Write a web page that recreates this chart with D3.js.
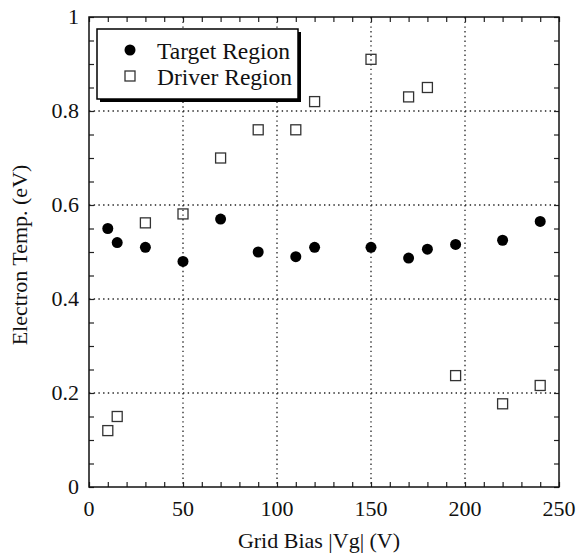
<!DOCTYPE html>
<html>
<head>
<meta charset="utf-8">
<script src="https://cdn.jsdelivr.net/npm/d3@7"></script>
<style>
    body { margin: 0; background: #fff; }
</style>
</head>
<body>
<script>
var gridBias = [10, 15, 30, 50, 70, 90, 110, 120, 150, 170, 180, 195, 220, 240];
var targetRegion = [0.55, 0.52, 0.51, 0.48, 0.57, 0.50, 0.49, 0.51, 0.51, 0.487, 0.506, 0.516, 0.525, 0.565];
var driverRegion = [0.12, 0.15, 0.562, 0.581, 0.70, 0.76, 0.76, 0.82, 0.91, 0.83, 0.85, 0.237, 0.177, 0.216];
var xTicks = [0, 50, 100, 150, 200, 250];
var yTicks = [0, 0.2, 0.4, 0.6, 0.8, 1];
var seriesNames = ['Target Region', 'Driver Region'];

window.Chart = function () {
    var serif = "'Liberation Serif', 'DejaVu Serif', Times, serif";
    return {
        draw: function () {
            var W = 579, H = 555;
            var left = 89, right = 559, top = 17, bottom = 487;

            var svg = d3.select('body').append('svg').attr('width', W).attr('height', H)
                .attr('font-family', serif);

            var x = d3.scaleLinear().domain([0, 250]).range([left, right]);
            var y = d3.scaleLinear().domain([0, 1]).range([bottom, top]);

            // dotted grid at the major ticks
            var grid = svg.append('g').attr('stroke', '#222').attr('stroke-width', 1.3).attr('stroke-dasharray', '1.4,3.3');
            grid.selectAll('.gx').data(xTicks.slice(1, -1)).enter().append('line')
                .attr('x1', function(d) { return x(d); }).attr('x2', function(d) { return x(d); })
                .attr('y1', top).attr('y2', bottom);
            grid.selectAll('.gy').data(yTicks.slice(1, -1)).enter().append('line')
                .attr('x1', left).attr('x2', right)
                .attr('y1', function(d) { return y(d); }).attr('y2', function(d) { return y(d); });

            // inward ticks on all four sides
            var tl = -5;
            svg.append('g').attr('transform', 'translate(0,' + bottom + ')')
                .call(d3.axisBottom(x).ticks(25).tickSize(tl).tickFormat(''));
            svg.append('g').attr('transform', 'translate(0,' + top + ')')
                .call(d3.axisTop(x).ticks(25).tickSize(tl).tickFormat(''));
            svg.append('g').attr('transform', 'translate(' + left + ',0)')
                .call(d3.axisLeft(y).ticks(20).tickSize(tl).tickFormat(''));
            svg.append('g').attr('transform', 'translate(' + right + ',0)')
                .call(d3.axisRight(y).ticks(20).tickSize(tl).tickFormat(''));
            svg.selectAll('.domain').remove();
            svg.selectAll('.tick line').attr('stroke', '#222').attr('stroke-width', 1.2);

            svg.append('rect').attr('x', left).attr('y', top)
                .attr('width', right - left).attr('height', bottom - top)
                .attr('fill', 'none').attr('stroke', '#111').attr('stroke-width', 1.5);

            // tick labels
            svg.selectAll('.xl').data(xTicks).enter().append('text')
                .attr('x', function(d) { return x(d); }).attr('y', bottom + 29)
                .attr('text-anchor', 'middle').attr('font-size', 22).attr('fill', '#111')
                .text(function(d) { return d; });
            svg.selectAll('.yl').data(yTicks).enter().append('text')
                .attr('x', left - 10).attr('y', function(d) { return y(d) + 7; })
                .attr('text-anchor', 'end').attr('font-size', 22).attr('fill', '#111')
                .text(function(d) { return d; });

            svg.append('text').attr('x', 319).attr('y', 548)
                .attr('text-anchor', 'middle').attr('font-size', 22).attr('fill', '#111')
                .text('Grid Bias |Vg| (V)');
            svg.append('text').attr('transform', 'translate(27,' + ((top + bottom) / 2 + 3) + ') rotate(-90)')
                .attr('text-anchor', 'middle').attr('font-size', 22).attr('fill', '#111')
                .text('Electron Temp. (eV)');

            // points
            svg.selectAll('.drv').data(gridBias).enter().append('rect')
                .attr('x', function(d) { return x(d) - 5; })
                .attr('y', function(d, i) { return y(driverRegion[i]) - 5; })
                .attr('width', 10).attr('height', 10)
                .attr('fill', 'none').attr('stroke', '#333').attr('stroke-width', 1.3);
            svg.selectAll('.tgt').data(gridBias).enter().append('circle')
                .attr('cx', function(d) { return x(d); })
                .attr('cy', function(d, i) { return y(targetRegion[i]); })
                .attr('r', 5.5).attr('fill', '#000');

            // legend with drop shadow
            var lg = svg.append('g');
            lg.append('rect').attr('x', 100).attr('y', 32).attr('width', 201).attr('height', 70).attr('fill', '#000');
            lg.append('rect').attr('x', 97).attr('y', 29).attr('width', 201).attr('height', 70)
                .attr('fill', '#fff').attr('stroke', '#000').attr('stroke-width', 1.5);
            lg.append('circle').attr('cx', 130).attr('cy', 50).attr('r', 5.5).attr('fill', '#000');
            lg.append('rect').attr('x', 125).attr('y', 71).attr('width', 10).attr('height', 10)
                .attr('fill', 'none').attr('stroke', '#333').attr('stroke-width', 1.3);
            lg.selectAll('.lt').data(seriesNames).enter().append('text')
                .attr('x', 157).attr('y', function(d, i) { return 59 + i * 26; })
                .attr('font-size', 23.5).attr('fill', '#111')
                .text(function(d) { return d; });
        }
    };
}();

window.Chart.draw();
</script>
</body>
</html>
